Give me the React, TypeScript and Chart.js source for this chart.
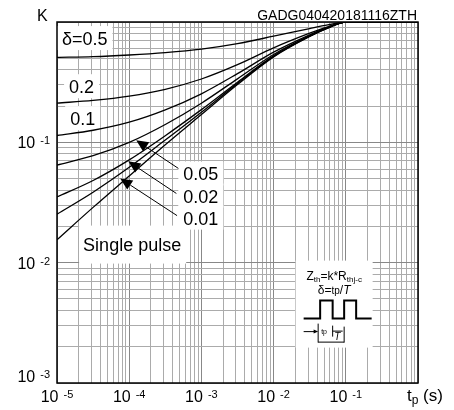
import React, { useEffect, useRef } from 'react';
import { Chart, registerables } from 'chart.js';

Chart.register(...registerables);

// ---- data ----
const times = [1e-5, 3.16e-5, 1e-4, 3.16e-4, 1e-3, 3.16e-3, 1e-2, 3.16e-2, 5.62e-2, 1e-1, 1];
const kDelta05 = [0.508, 0.515, 0.532, 0.557, 0.596, 0.662, 0.762, 0.882, 0.946, 1, 1];
const kDelta02 = [0.212, 0.223, 0.242, 0.276, 0.336, 0.442, 0.61, 0.807, 0.913, 1, 1];
const kDelta01 = [0.114, 0.126, 0.147, 0.186, 0.253, 0.372, 0.562, 0.783, 0.902, 1, 1];
const kDelta005 = [0.0647, 0.0774, 0.0999, 0.1407, 0.2115, 0.337, 0.537, 0.771, 0.896, 1, 1];
const kDelta002 = [0.0352, 0.0482, 0.0715, 0.1136, 0.187, 0.316, 0.523, 0.764, 0.893, 1, 1];
const kDelta001 = [0.0253, 0.0385, 0.062, 0.1045, 0.178, 0.309, 0.518, 0.761, 0.892, 1, 1];
const kSingle = [0.0155, 0.0288, 0.0525, 0.0955, 0.17, 0.302, 0.513, 0.759, 0.891, 1, 1];

const seriesNames = ['δ=0.5', '0.2', '0.1', '0.05', '0.02', '0.01', 'Single pulse'];
const seriesValues = [kDelta05, kDelta02, kDelta01, kDelta005, kDelta002, kDelta001, kSingle];

const xTickExponents = ['-5', '-4', '-3', '-2', '-1'];
const yTickExponents = ['-3', '-2', '-1'];

const xMin = 1e-5;
const xMax = 1;
const yMin = 1e-3;
const yMax = 1;

const yAxisTitle = 'K';
const docCode = 'GADG040420181116ZTH';

// curve labels: anchor (t, K) = left end of text baseline
const curveLabels = [
  { text: 'δ=0.5', t: 1.17e-5, k: 0.643 },
  { text: '0.2', t: 1.47e-5, k: 0.256 },
  { text: '0.1', t: 1.52e-5, k: 0.139 },
  { text: '0.05', t: 5.62e-4, k: 0.0482 },
  { text: '0.02', t: 5.62e-4, k: 0.0316 },
  { text: '0.01', t: 5.62e-4, k: 0.0207 },
  { text: 'Single pulse', t: 2.3e-5, k: 0.0126 },
];

// arrows: tail -> tip, in (t, K)
const arrows = [
  { t0: 4.8e-4, k0: 0.0607, t1: 1.25e-4, k1: 0.104 },
  { t0: 4.5e-4, k0: 0.0376, t1: 9.7e-5, k1: 0.0695 },
  { t0: 4.6e-4, k0: 0.0246, t1: 7.5e-5, k1: 0.0501 },
];

// inset (top-left anchor in data coords)
const insetAnchor = { t: 0.0202, k: 0.0104 };

const FONT = '"Liberation Sans", Arial, Helvetica, sans-serif';

type Seg = { text?: string; size?: number; dy?: number; italic?: boolean; gap?: number };

function segWidth(ctx: CanvasRenderingContext2D, segs: Seg[]) {
  let w = 0;
  for (const s of segs) {
    if (s.gap) { w += s.gap; continue; }
    ctx.font = `${s.italic ? 'italic ' : ''}${s.size}px ${FONT}`;
    w += ctx.measureText(s.text || '').width;
  }
  return w;
}

function drawSegs(ctx: CanvasRenderingContext2D, segs: Seg[], x: number, y: number) {
  let cx = x;
  for (const s of segs) {
    if (s.gap) { cx += s.gap; continue; }
    ctx.font = `${s.italic ? 'italic ' : ''}${s.size}px ${FONT}`;
    ctx.fillText(s.text || '', cx, y + (s.dy || 0));
    cx += ctx.measureText(s.text || '').width;
  }
  return cx - x;
}

function isPow10(v: number) {
  const l = Math.log10(v);
  return Math.abs(l - Math.round(l)) < 1e-6;
}

function gridValues(e0: number, e1: number) {
  const out: number[] = [];
  for (let e = e0; e < e1; e++) {
    for (let m = 1; m <= 9; m++) out.push(Number((m * Math.pow(10, e)).toPrecision(3)));
  }
  out.push(Math.pow(10, e1));
  return out;
}

const decorPlugin = {
  id: 'decor',
  beforeDatasetsDraw(chart: any) {
    const ctx: CanvasRenderingContext2D = chart.ctx;
    const xs = chart.scales.x;
    const ys = chart.scales.y;
    ctx.save();
    ctx.fillStyle = '#ffffff';
    ctx.font = `18px ${FONT}`;
    for (const l of curveLabels) {
      const px = xs.getPixelForValue(l.t);
      const py = ys.getPixelForValue(l.k);
      const w = ctx.measureText(l.text).width;
      if (l.text === 'Single pulse') {
        ctx.fillRect(px - 4, py - 25, w + 9, 38);
      } else {
        ctx.fillRect(px - 5, py - 19, w + 10, 24);
      }
    }
    const ix = xs.getPixelForValue(insetAnchor.t);
    const iy = ys.getPixelForValue(insetAnchor.k);
    ctx.fillRect(ix, iy, 77, 87);
    ctx.restore();
  },
  afterDraw(chart: any) {
    const ctx: CanvasRenderingContext2D = chart.ctx;
    const xs = chart.scales.x;
    const ys = chart.scales.y;
    const a = chart.chartArea;
    ctx.save();
    ctx.fillStyle = '#000';
    ctx.strokeStyle = '#000';
    ctx.textBaseline = 'alphabetic';
    ctx.textAlign = 'left';

    // plot border
    ctx.lineWidth = 1.5;
    ctx.strokeRect(a.left, a.top, a.right - a.left, a.bottom - a.top);

    // x tick labels
    for (const ex of xTickExponents) {
      const px = xs.getPixelForValue(Math.pow(10, Number(ex)));
      const segs: Seg[] = [{ text: '10', size: 16 }, { gap: 5 }, { text: ex, size: 11, dy: -4 }];
      const w = segWidth(ctx, segs);
      drawSegs(ctx, segs, px - w / 2, a.bottom + 19);
    }
    // y tick labels
    for (const ey of yTickExponents) {
      const py = ys.getPixelForValue(Math.pow(10, Number(ey)));
      const segs: Seg[] = [{ text: '10', size: 16 }, { gap: 5 }, { text: ey, size: 11, dy: -4 }];
      const w = segWidth(ctx, segs);
      drawSegs(ctx, segs, a.left - 7 - w, Math.min(py + 6, a.bottom - 1));
    }

    // axis titles
    ctx.font = `16px ${FONT}`;
    ctx.fillText(yAxisTitle, a.left - 20, a.top - 1);
    ctx.font = `14px ${FONT}`;
    ctx.textAlign = 'right';
    ctx.fillText(docCode, a.right - 1, a.top - 2);
    ctx.textAlign = 'left';
    drawSegs(ctx, [
      { text: 't', size: 17 },
      { text: 'p', size: 12, dy: 3 },
      { text: ' (s)', size: 17 },
    ], a.right - 11, a.bottom + 18);

    // curve labels
    ctx.font = `18px ${FONT}`;
    for (const l of curveLabels) {
      ctx.fillText(l.text, xs.getPixelForValue(l.t), ys.getPixelForValue(l.k));
    }

    // arrows
    ctx.lineWidth = 1;
    for (const ar of arrows) {
      const x0 = xs.getPixelForValue(ar.t0);
      const y0 = ys.getPixelForValue(ar.k0);
      const x1 = xs.getPixelForValue(ar.t1);
      const y1 = ys.getPixelForValue(ar.k1);
      const ang = Math.atan2(y1 - y0, x1 - x0);
      const len = 12;
      const hw = 5.5;
      const bx = x1 - len * Math.cos(ang);
      const by = y1 - len * Math.sin(ang);
      ctx.beginPath();
      ctx.moveTo(x0, y0);
      ctx.lineTo(bx, by);
      ctx.stroke();
      ctx.beginPath();
      ctx.moveTo(x1, y1);
      ctx.lineTo(bx + hw * Math.sin(ang), by - hw * Math.cos(ang));
      ctx.lineTo(bx - hw * Math.sin(ang), by + hw * Math.cos(ang));
      ctx.closePath();
      ctx.fill();
    }

    // inset
    const ix = xs.getPixelForValue(insetAnchor.t);
    const iy = ys.getPixelForValue(insetAnchor.k);
    const l1: Seg[] = [
      { text: 'Z', size: 12 },
      { text: 'th', size: 8, dy: 2 },
      { text: '=k*R', size: 12 },
      { text: 'thj-c', size: 8, dy: 2 },
    ];
    drawSegs(ctx, l1, ix + 38.5 - segWidth(ctx, l1) / 2, iy + 19);
    const l2: Seg[] = [
      { text: 'δ=', size: 12 },
      { text: 'tp', size: 10 },
      { text: '/', size: 12 },
      { text: 'T', size: 12, italic: true },
    ];
    drawSegs(ctx, l2, ix + 38.5 - segWidth(ctx, l2) / 2, iy + 33);

    ctx.lineWidth = 2;
    ctx.beginPath();
    const lo = iy + 58;
    const hi = iy + 40;
    ctx.moveTo(ix + 8, lo);
    ctx.lineTo(ix + 24.5, lo);
    ctx.lineTo(ix + 24.5, hi);
    ctx.lineTo(ix + 37, hi);
    ctx.lineTo(ix + 37, lo);
    ctx.lineTo(ix + 48.5, lo);
    ctx.lineTo(ix + 48.5, hi);
    ctx.lineTo(ix + 60.5, hi);
    ctx.lineTo(ix + 60.5, lo);
    ctx.lineTo(ix + 76, lo);
    ctx.stroke();

    ctx.lineWidth = 1;
    ctx.beginPath();
    // tp arrow
    ctx.moveTo(ix + 8, iy + 71);
    ctx.lineTo(ix + 20, iy + 71);
    // verticals
    ctx.moveTo(ix + 22.5, iy + 63);
    ctx.lineTo(ix + 22.5, iy + 82);
    ctx.moveTo(ix + 37, iy + 65);
    ctx.lineTo(ix + 37, iy + 76);
    ctx.moveTo(ix + 48.5, iy + 66);
    ctx.lineTo(ix + 48.5, iy + 82);
    // bottom line
    ctx.moveTo(ix + 22.5, iy + 81.5);
    ctx.lineTo(ix + 48.5, iy + 81.5);
    // line over T
    ctx.moveTo(ix + 37, iy + 70.5);
    ctx.lineTo(ix + 47, iy + 70.5);
    ctx.stroke();
    ctx.beginPath();
    ctx.moveTo(ix + 22.5, iy + 71);
    ctx.lineTo(ix + 18, iy + 69);
    ctx.lineTo(ix + 18, iy + 73);
    ctx.closePath();
    ctx.fill();
    drawSegs(ctx, [{ text: 'tp', size: 7 }], ix + 25.5, iy + 73);
    drawSegs(ctx, [{ text: 'T', size: 10, italic: true }], ix + 38.5, iy + 79);

    ctx.restore();
  },
};

export default function App() {
  const ref = useRef<HTMLCanvasElement | null>(null);
  useEffect(() => {
    if (!ref.current) return;
    const datasets = seriesValues.map((vals, i) => ({
      label: seriesNames[i],
      data: times.map((t, j) => ({ x: t, y: vals[j] })),
      borderColor: '#000000',
      borderWidth: 1.3,
      pointRadius: 0,
      fill: false,
      cubicInterpolationMode: 'monotone' as const,
    }));
    const gridColor = (c: any) => (c.tick && isPow10(c.tick.value) ? '#888888' : '#ababab');
    const chart = new Chart(ref.current, {
      type: 'line',
      data: { datasets },
      plugins: [decorPlugin],
      options: {
        animation: false,
        responsive: false,
        parsing: true,
        layout: { padding: { left: 57, right: 36, top: 22, bottom: 27 } },
        plugins: { legend: { display: false }, tooltip: { enabled: false } },
        scales: {
          x: {
            type: 'logarithmic',
            min: xMin,
            max: xMax,
            ticks: { display: false },
            border: { display: false },
            grid: { drawTicks: false, color: gridColor, lineWidth: 1 },
            afterBuildTicks: (s: any) => {
              s.ticks = gridValues(-5, 0).map((v) => ({ value: v }));
            },
          },
          y: {
            type: 'logarithmic',
            min: yMin,
            max: yMax,
            ticks: { display: false },
            border: { display: false },
            grid: { drawTicks: false, color: gridColor, lineWidth: 1 },
            afterBuildTicks: (s: any) => {
              s.ticks = gridValues(-3, 0).map((v) => ({ value: v }));
            },
          },
        },
      } as any,
    });
    return () => chart.destroy();
  }, []);
  return (
    <div style={{ position: 'absolute', left: 0, top: 0, width: 454, height: 410, background: '#fff' }}>
      <canvas ref={ref} width={454} height={410} style={{ display: 'block' }} />
    </div>
  );
}
